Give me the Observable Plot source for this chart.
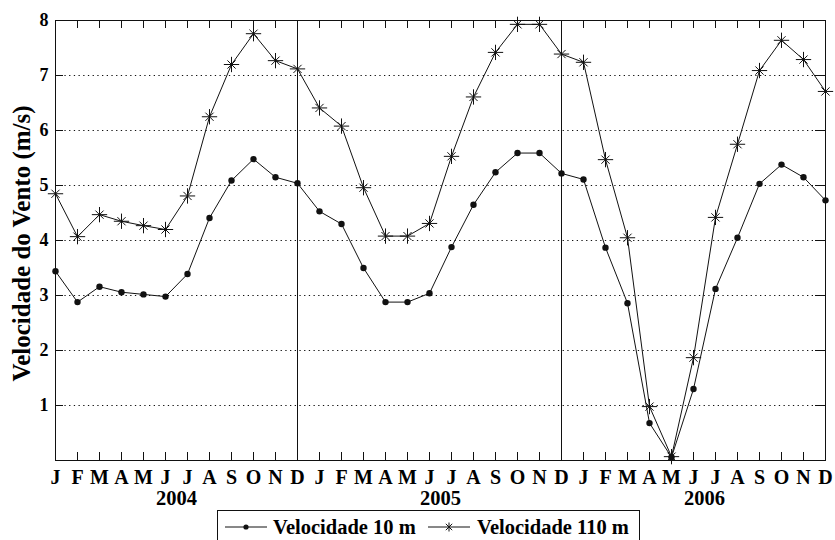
<!DOCTYPE html>
<html><head><meta charset="utf-8">
<script src="https://cdn.jsdelivr.net/npm/d3@7"></script>
<script src="https://cdn.jsdelivr.net/npm/@observablehq/plot@0.6"></script>
<style>
body{margin:0;background:#fff;font-family:"Liberation Serif","Times New Roman",serif;}
#chart{position:absolute;left:0;top:0;}
#legend{position:absolute;left:217px;top:510px;width:423px;height:36px;}
#legend svg{display:block;}
</style></head><body>
<div id="chart"></div>
<div id="legend"></div>
<script>
const monthLetters = ["J","F","M","A","M","J","J","A","S","O","N","D"];
const years = ["2004","2005","2006"];
const seriesNames = ["Velocidade 10 m","Velocidade 110 m"];
const yLabel = "Velocidade do Vento (m/s)";
const yTicks = [1,2,3,4,5,6,7,8];
const gridLevels = [1,2,3,4,5,6,7];
const yearBreaks = [11, 23];
const yearCenters = [5.5, 17.5, 29.5];

// Velocidade 10 m, Jan 2004 .. Dec 2006
const v10 = [3.44,2.88,3.16,3.06,3.02,2.98,3.39,4.41,5.09,5.48,5.15,5.04,
             4.53,4.30,3.50,2.88,2.88,3.04,3.88,4.65,5.24,5.59,5.59,5.22,
             5.11,3.87,2.86,0.68,0.06,1.30,3.12,4.05,5.03,5.38,5.15,4.73];
// Velocidade 110 m
const v110 = [4.85,4.07,4.47,4.35,4.27,4.20,4.81,6.25,7.20,7.76,7.27,7.12,
              6.41,6.08,4.96,4.08,4.08,4.31,5.53,6.61,7.42,7.93,7.93,7.39,
              7.24,5.47,4.05,0.98,0.07,1.87,4.42,5.75,7.09,7.64,7.29,6.71];

const idx = d3.range(36);
const rows10 = idx.map(i => ({i, v: v10[i]}));
const rows110 = idx.map(i => ({i, v: v110[i]}));
const ink = "#111";
const serif = "'Liberation Serif','Times New Roman',serif";

const chart = Plot.plot({
  width: 835, height: 508,
  marginLeft: 55, marginRight: 10, marginTop: 20, marginBottom: 48,
  x: {domain: [0, 35]},
  y: {domain: [0, 8]},
  style: {fontFamily: serif, color: "#000", background: "#fff"},
  marks: [
    Plot.ruleY(gridLevels, {stroke: ink, strokeDasharray: "1.3,3.4", strokeWidth: 1}),
    Plot.ruleX(yearBreaks, {stroke: ink, strokeWidth: 1}),
    Plot.tickX(idx, {x: d => d, insetTop: 432, stroke: ink}),
    Plot.tickX(idx, {x: d => d, insetBottom: 432, stroke: ink}),
    Plot.tickY(gridLevels, {y: d => d, insetLeft: 760, stroke: ink}),
    Plot.tickY(gridLevels, {y: d => d, insetRight: 762, stroke: ink}),
    Plot.frame({stroke: ink, strokeWidth: 1}),
    Plot.axisX({ticks: idx, tickFormat: i => monthLetters[i % 12], tickSize: 0, tickPadding: 9,
      fontSize: 20, fontWeight: "bold", label: null}),
    Plot.axisY({ticks: yTicks, tickSize: 0, tickPadding: 7, fontSize: 18, fontWeight: "bold", label: null}),
    Plot.text(years, {x: (d, k) => yearCenters[k], frameAnchor: "bottom", dy: 44, lineAnchor: "bottom",
      fontSize: 20.5, fontWeight: "bold", fill: "#000"}),
    Plot.text([yLabel], {frameAnchor: "left", dx: -34, dy: 3, rotate: -90, textAnchor: "middle",
      fontSize: 25, fontWeight: "bold", fill: "#000"}),
    Plot.line(rows10, {x: "i", y: "v", stroke: ink, strokeWidth: 1}),
    Plot.line(rows110, {x: "i", y: "v", stroke: ink, strokeWidth: 1}),
    Plot.dot(rows10, {x: "i", y: "v", r: 3.2, fill: ink, stroke: "none"}),
    Plot.dot(rows110, {x: "i", y: "v", r: 5, symbol: "plus", stroke: ink, strokeWidth: 1}),
    Plot.dot(rows110, {x: "i", y: "v", r: 3.8, symbol: "times", stroke: ink, strokeWidth: 1})
  ]
});
document.getElementById("chart").appendChild(chart);

// Legend (drawn below the plot SVG)
const leg = d3.select("#legend").append("svg").attr("width", 423).attr("height", 36)
  .style("font-family", serif);
leg.append("rect").attr("x", 0.5).attr("y", 0.5).attr("width", 422).attr("height", 40)
  .attr("fill", "#fff").attr("stroke", ink);
const entries = [{x0: 8, tx: 56}, {x0: 211, tx: 260}];
entries.forEach((e, k) => {
  leg.append("line").attr("x1", e.x0).attr("x2", e.x0 + 42).attr("y1", 17).attr("y2", 17).attr("stroke", ink);
  const cx = e.x0 + 21;
  if (k === 0) {
    leg.append("circle").attr("cx", cx).attr("cy", 17).attr("r", 2.6).attr("fill", ink);
  } else {
    const g = leg.append("g").attr("stroke", ink);
    g.append("line").attr("x1", cx).attr("x2", cx).attr("y1", 12.5).attr("y2", 21.5);
    g.append("line").attr("x1", cx - 3.2).attr("x2", cx + 3.2).attr("y1", 13.8).attr("y2", 20.2);
    g.append("line").attr("x1", cx - 3.2).attr("x2", cx + 3.2).attr("y1", 20.2).attr("y2", 13.8);
  }
  leg.append("text").attr("x", e.tx).attr("y", 24).attr("font-size", 20.5).attr("font-weight", "bold")
    .attr("fill", "#000").text(seriesNames[k]);
});
</script>
</body></html>
